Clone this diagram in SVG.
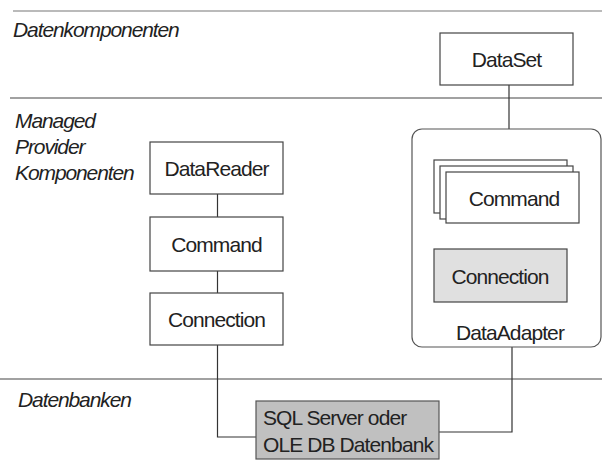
<svg xmlns="http://www.w3.org/2000/svg" width="602" height="473" viewBox="0 0 602 473">
<style>
.sep{stroke:#444;stroke-width:1.2;fill:none}
.box{fill:#fff;stroke:#444;stroke-width:1.2}
.lbl{font-family:"Liberation Sans",Arial,sans-serif;font-size:21px;fill:#222;letter-spacing:-0.9px}
.sec{font-family:"Liberation Sans",Arial,sans-serif;font-size:21px;font-style:italic;fill:#222;letter-spacing:-1.1px}
.con{stroke:#333;stroke-width:1.2;fill:none}
</style>
<rect width="602" height="473" fill="#fff"/>
<g id="separators">
<line class="sep" x1="13" y1="11" x2="602" y2="11" style="stroke:#777"/>
<line class="sep" x1="10" y1="98" x2="602" y2="98"/>
<line class="sep" x1="0" y1="379" x2="602" y2="379"/>
</g>
<g id="sections">
<text class="sec" x="13" y="37">Datenkomponenten</text>
<text class="sec" x="15" y="128">Managed</text>
<text class="sec" x="15" y="154">Provider</text>
<text class="sec" x="15" y="180">Komponenten</text>
<text class="sec" x="18" y="407">Datenbanken</text>
</g>
<g id="connectors">
<line class="con" x1="509" y1="85" x2="509" y2="129"/>
<line class="con" x1="217.5" y1="194" x2="217.5" y2="217"/>
<line class="con" x1="217.5" y1="271" x2="217.5" y2="293"/>
<polyline class="con" points="217.5,345 217.5,437 256,437"/>
<polyline class="con" points="512,347 512,432 439,432"/>
</g>
<g id="dataset">
<rect class="box" x="440" y="33" width="133" height="52"/>
<text class="lbl" x="506.5" y="67" text-anchor="middle">DataSet</text>
</g>
<g id="datareader">
<rect class="box" x="150" y="142" width="133" height="52"/>
<text class="lbl" x="216.5" y="176" text-anchor="middle">DataReader</text>
</g>
<g id="command">
<rect class="box" x="150" y="217" width="133" height="54"/>
<text class="lbl" x="216.5" y="252" text-anchor="middle">Command</text>
</g>
<g id="connection">
<rect class="box" x="150" y="293" width="133" height="52"/>
<text class="lbl" x="216.5" y="327" text-anchor="middle">Connection</text>
</g>
<g id="dataadapter">
<rect x="412" y="129" width="189" height="218" rx="10" ry="10" fill="#fff" stroke="#555" stroke-width="1.2"/>
<text class="lbl" x="510" y="340" text-anchor="middle">DataAdapter</text>
</g>
<g id="adapter-command">
<rect class="box" x="434" y="160" width="133" height="53"/>
<rect class="box" x="440" y="166" width="133" height="53"/>
<rect class="box" x="446" y="172" width="133" height="51"/>
<text class="lbl" x="514" y="206" text-anchor="middle">Command</text>
</g>
<g id="adapter-connection">
<rect x="434" y="249" width="133" height="53" fill="#e0e0e0" stroke="#444" stroke-width="1.2"/>
<text class="lbl" x="500" y="284" text-anchor="middle">Connection</text>
</g>
<g id="database">
<rect x="256" y="401" width="183" height="58" fill="#c0c0c0" stroke="#555" stroke-width="1.2"/>
<text class="lbl" x="263" y="425">SQL Server oder</text>
<text class="lbl" x="263" y="452">OLE DB Datenbank</text>
</g>
</svg>
